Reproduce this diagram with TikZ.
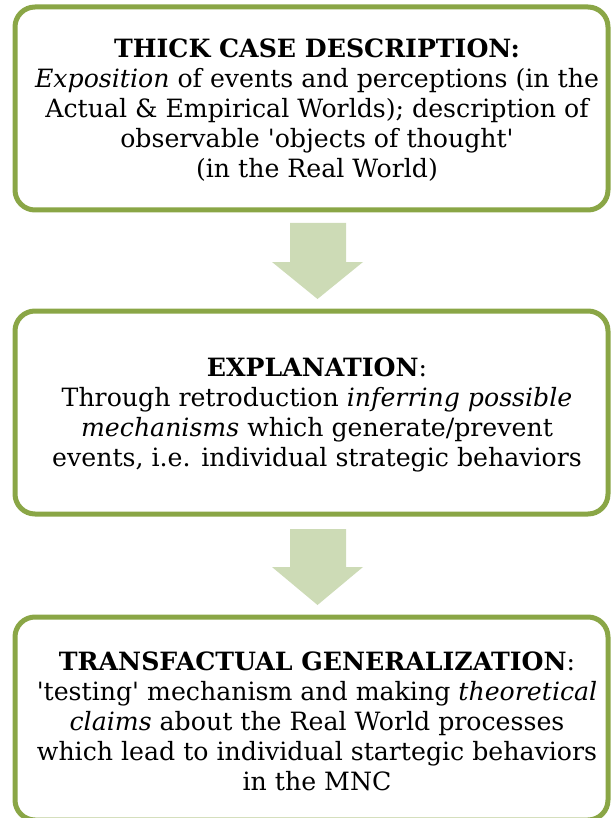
\documentclass[tikz,border=0pt]{standalone}
\usepackage{fontspec}
\setmainfont{DejaVu Serif}
\definecolor{boxgreen}{RGB}{138,166,70}
\definecolor{arrowgreen}{RGB}{205,219,182}
\tikzset{
  stagebox/.style={draw=boxgreen, line width=5pt, rounded corners=20pt, fill=white,
    minimum width=593pt, minimum height=203pt, inner sep=0pt},
  stagetext/.style={align=center, inner sep=0pt, font=\fontsize{25.2}{30}\selectfont},
  blockarrow/.style={fill=arrowgreen, draw=none}
}
\begin{document}
\begin{tikzpicture}[x=1pt,y=-1pt]
\useasboundingbox (0,0) rectangle (611,818);
\node[stagebox] (b1) at (311.5,108.5) {};
\node[stagebox] (b2) at (311.5,412.5) {};
\node[stagebox] (b3) at (311.5,718.5) {};
\node[stagetext] (t1) at (317,110) {\textbf{THICK CASE DESCRIPTION:}\\
\textit{Exposition} of events and perceptions (in the\\
Actual \& Empirical Worlds); description of\\
observable \textquotesingle objects of thought\textquotesingle\\
(in the Real World)};
\node[stagetext] (t2) at (317,415) {\textbf{EXPLANATION}:\\
Through retroduction \textit{inferring possible}\\
\textit{mechanisms} which generate/prevent\\
events, i.e. individual strategic behaviors};
\node[stagetext] (t3) at (317,721) {\textbf{TRANSFACTUAL GENERALIZATION}:\\
\textquotesingle testing\textquotesingle{} mechanism and making \textit{theoretical}\\
\textit{claims} about the Real World processes\\
which lead to individual startegic behaviors\\
in the MNC};
\fill[blockarrow] (290,223) -- (346,223) -- (346,262) -- (363,262) -- (317.5,299) -- (272,262) -- (290,262) -- cycle;
\fill[blockarrow] (290,529) -- (346,529) -- (346,567) -- (363,567) -- (317.5,605) -- (272,567) -- (290,567) -- cycle;
\end{tikzpicture}
\end{document}
